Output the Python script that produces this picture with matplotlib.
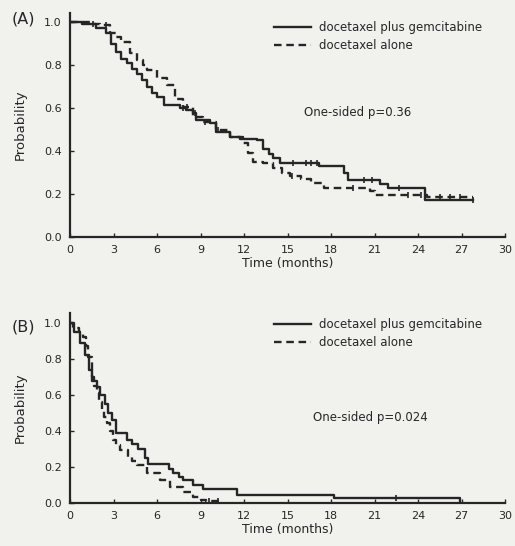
import numpy as np
import matplotlib
matplotlib.use("Agg")
import matplotlib.pyplot as plt

# panel A - overall survival
a_combo_t = [0, 0.8, 1.8, 2.5, 2.85, 3.2, 3.55, 3.9, 4.25, 4.6, 4.95, 5.3, 5.65, 6.0, 6.5,
             7.6, 8.0, 8.5, 8.7, 9.65, 10.1, 11.0, 11.7, 12.9, 13.3, 13.7, 14.0, 14.5,
             17.2, 18.9, 19.2, 21.4, 21.9, 24.5, 27.8]
a_combo_s = [1.0, 0.99, 0.97, 0.95, 0.90, 0.86, 0.83, 0.81, 0.78, 0.76, 0.73, 0.70, 0.67, 0.65, 0.615,
             0.60, 0.59, 0.575, 0.545, 0.53, 0.49, 0.466, 0.458, 0.45, 0.41, 0.385, 0.366, 0.345,
             0.33, 0.30, 0.265, 0.245, 0.228, 0.17, 0.17]
a_doc_t = [0, 1.4, 2.1, 2.75, 3.15, 3.55, 4.15, 4.6, 5.0, 5.3, 6.0, 6.7, 7.25, 7.8, 8.5, 9.2,
           10.1, 11.0, 11.95, 12.3, 12.6, 13.3, 14.0, 14.6, 15.2, 15.9, 16.6, 17.5, 20.7, 21.0,
           24.6, 27.8]
a_doc_s = [1.0, 0.99, 0.985, 0.95, 0.93, 0.905, 0.855, 0.825, 0.80, 0.775, 0.74, 0.705, 0.64, 0.605,
           0.56, 0.535, 0.50, 0.466, 0.436, 0.39, 0.35, 0.343, 0.32, 0.30, 0.285, 0.27, 0.25, 0.23,
           0.215, 0.197, 0.186, 0.186]
a_combo_cens = [7.8, 8.6, 15.4, 16.3, 16.6, 17.0, 20.3, 20.8, 22.7, 27.8]
a_doc_cens = [1.6, 2.5, 8.1, 9.3, 10.2, 15.3, 19.5, 23.3, 24.2, 25.5, 26.2, 26.9]

# panel B - progression-free survival
b_combo_t = [0, 0.3, 0.69, 1.03, 1.3, 1.5, 1.84, 2.1, 2.41, 2.65, 2.87, 3.2, 3.9, 4.3, 4.71,
             5.17, 5.4, 6.8, 7.13, 7.5, 7.82, 8.5, 9.2, 11.5, 18.2, 26.9]
b_combo_s = [1.0, 0.95, 0.887, 0.82, 0.74, 0.68, 0.646, 0.60, 0.55, 0.50, 0.46, 0.387, 0.35, 0.33, 0.30,
             0.248, 0.215, 0.19, 0.165, 0.145, 0.128, 0.10, 0.08, 0.044, 0.03, 0.0]
b_doc_t = [0, 0.23, 0.6, 0.92, 1.1, 1.26, 1.49, 1.65, 1.84, 2.0, 2.18, 2.35, 2.53, 2.75, 2.99,
           3.2, 3.45, 4.02, 4.3, 4.6, 5.29, 6.2, 6.9, 7.8, 8.5, 9.0, 9.4, 10.5]
b_doc_s = [1.0, 0.97, 0.95, 0.924, 0.87, 0.81, 0.70, 0.65, 0.61, 0.56, 0.517, 0.48, 0.443, 0.40, 0.35,
           0.32, 0.294, 0.257, 0.235, 0.21, 0.165, 0.128, 0.09, 0.063, 0.035, 0.017, 0.01, 0.0]
b_combo_cens = [22.5]
b_doc_cens = [9.6, 10.2]

labels = ["docetaxel plus gemcitabine", "docetaxel alone"]
xticks = np.arange(0, 31, 3)
yticks = [0.0, 0.2, 0.4, 0.6, 0.8, 1.0]

ink = "#262626"
bg = "#f1f1ee"


def surv_at(times, surv, t):
    idx = np.searchsorted(times, t, side="right") - 1
    return surv[idx]


def panel(ax, ct, cs, dt, ds, ccens, dcens, ytop, letter, ptext, ptext_xy, leg_xy):
    ax.set_facecolor(bg)
    ax.step(ct, cs, where="post", color=ink, lw=1.7, label=labels[0])
    ax.step(dt, ds, where="post", color=ink, lw=1.7, ls=(0, (3.2, 2.0)), label=labels[1])
    ax.plot(ccens, [surv_at(ct, cs, t) for t in ccens], ls="none", marker="|",
            ms=5, mew=1.2, color=ink)
    ax.plot(dcens, [surv_at(dt, ds, t) for t in dcens], ls="none", marker="|",
            ms=5, mew=1.2, color=ink)
    ax.set_xlim(0, 30)
    ax.set_ylim(0, ytop)
    ax.set_xticks(xticks)
    ax.set_yticks(yticks)
    ax.set_yticklabels(["%.1f" % v for v in yticks])
    for s in ["top", "right"]:
        ax.spines[s].set_visible(False)
    for s in ["left", "bottom"]:
        ax.spines[s].set_color(ink)
        ax.spines[s].set_linewidth(1.6)
    ax.tick_params(direction="in", length=3, width=1, colors=ink, labelsize=8, pad=6)
    ax.set_xlabel("Time (months)", fontsize=9, color=ink, labelpad=1)
    ax.set_ylabel("Probability", fontsize=9.5, color=ink, labelpad=12)
    fig.text(12 / W, letter[1], letter[0], fontsize=11.5, color=ink, va="center", ha="left")
    fig.text(ptext_xy[0], ptext_xy[1], ptext, fontsize=8.5, color=ink,
             ha="center", va="center")
    ax.legend(loc="upper left", bbox_to_anchor=leg_xy, bbox_transform=fig.transFigure,
              frameon=False, fontsize=8.5, handlelength=3.1, handletextpad=0.7,
              borderpad=0, borderaxespad=0, labelspacing=0.45, labelcolor=ink)


W, H = 515, 546
fig = plt.figure(figsize=(W / 100, H / 100), dpi=100, facecolor=bg)

axA = fig.add_axes([70 / W, 1 - 237 / H, 435 / W, 224 / H])
panel(axA, a_combo_t, a_combo_s, a_doc_t, a_doc_s, a_combo_cens, a_doc_cens,
      1.042, ("(A)", 1 - 19 / H), "One-sided p=0.36", (358 / W, 1 - 113 / H),
      (274 / W, 1 - 21 / H))

axB = fig.add_axes([70 / W, 1 - 503 / H, 435 / W, 190 / H])
panel(axB, b_combo_t, b_combo_s, b_doc_t, b_doc_s, b_combo_cens, b_doc_cens,
      1.055, ("(B)", 1 - 327 / H), "One-sided p=0.024", (370 / W, 1 - 418 / H),
      (274 / W, 1 - 318 / H))

fig.savefig("out.png", dpi=100, facecolor=bg)
